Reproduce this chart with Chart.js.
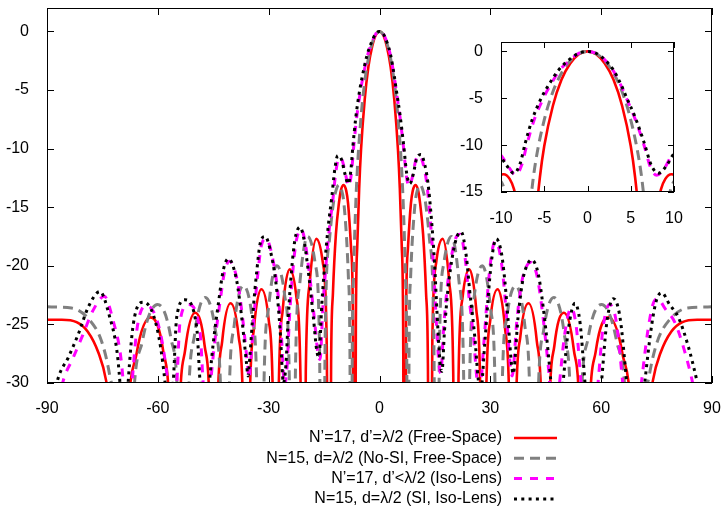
<!DOCTYPE html>
<html>
<head>
<meta charset="utf-8">
<script src="https://cdn.jsdelivr.net/npm/chart.js@4.4.1/dist/chart.umd.min.js"></script>
<style>
body { margin: 0; background: #fff; }
#wrap { position: relative; width: 725px; height: 513px; }
canvas { position: absolute; display: block; }
#main { left: 0; top: 0; }
#inset { left: 450px; top: 30px; }
</style>
</head>
<body>
<div id="wrap">
<canvas id="main" width="725" height="513"></canvas>
<canvas id="inset" width="240" height="200"></canvas>
</div>
<script>
const FONT = '"Liberation Sans", Arial, sans-serif'

const xTicks = [-90, -60, -30, 0, 30, 60, 90]
const yTicks = [-30, -25, -20, -15, -10, -5, 0]
const insetXTicks = [-10, -5, 0, 5, 10]
const insetYTicks = [-15, -10, -5, 0]

const seriesLabels = [
    'N\u2019=17, d\u2019=\u03bb/2 (Free-Space)',
    'N=15, d=\u03bb/2 (No-SI, Free-Space)',
    'N\u2019=17, d\u2019<\u03bb/2 (Iso-Lens)',
    'N=15, d=\u03bb/2 (SI, Iso-Lens)'
]

// [angle in deg, level in dB]; points below -30 just run off the plot
const freeSpace17 = [
    [-90,-24.6],[-86,-24.6],[-82,-24.8],[-79,-25.6],[-76.1,-27.4],[-74.0,-29.8],[-72.4,-34],[-70.25,-60],
    [-68.33,-34.7],[-65.76,-27.5],[-61.93,-24.4],[-58.53,-27.3],[-56.65,-34.5],[-55.44,-60],
    [-54.27,-34.3],[-52.57,-27.1],[-49.88,-24.0],[-47.34,-26.8],[-45.86,-33.9],[-44.9,-60],
    [-43.96,-33.6],[-42.57,-26.4],[-40.32,-23.2],[-38.14,-26.0],[-36.87,-33.0],[-36.03,-60],
    [-35.2,-32.8],[-33.97,-25.3],[-31.97,-22.0],[-30.0,-24.6],[-28.84,-31.6],[-28.07,-60],
    [-27.31,-31.2],[-26.18,-23.7],[-24.31,-20.3],[-22.48,-22.7],[-21.39,-29.5],[-20.67,-60],
    [-19.95,-29.0],[-18.88,-21.4],[-17.1,-17.7],[-15.35,-19.7],[-14.3,-26.4],[-13.61,-60],
    [-13.1,-28.3],[-12.6,-22.3],[-11.8,-17.3],[-11.0,-14.7],[-10.4,-13.5],[-9.7,-13.1],[-9.0,-13.6],[-8.5,-14.7],[-7.7,-18.5],[-7.2,-24.2],[-6.76,-60],
    [-6.4,-25.1],[-6.0,-18.1],[-5.5,-13.4],[-5.0,-10.1],[-4.0,-5.8],[-3.0,-3.0],[-2.0,-1.3],[-1.0,-0.3],[0,0],
    [1.0,-0.3],[2.0,-1.3],[3.0,-3.0],[4.0,-5.8],[5.0,-10.1],[5.5,-13.4],[6.0,-18.1],[6.4,-25.1],[6.76,-60],
    [7.2,-24.2],[7.7,-18.5],[8.5,-14.7],[9.0,-13.6],[9.7,-13.1],[10.4,-13.5],[11.0,-14.7],[11.8,-17.3],[12.6,-22.3],[13.1,-28.3],[13.61,-60],
    [14.3,-26.4],[15.35,-19.7],[17.1,-17.7],[18.88,-21.4],[19.95,-29.0],[20.67,-60],
    [21.39,-29.5],[22.48,-22.7],[24.31,-20.3],[26.18,-23.7],[27.31,-31.2],[28.07,-60],
    [28.84,-31.6],[30.0,-24.6],[31.97,-22.0],[33.97,-25.3],[35.2,-32.8],[36.03,-60],
    [36.87,-33.0],[38.14,-26.0],[40.32,-23.2],[42.57,-26.4],[43.96,-33.6],[44.9,-60],
    [45.86,-33.9],[47.34,-26.8],[49.88,-24.0],[52.57,-27.1],[54.27,-34.3],[55.44,-60],
    [56.65,-34.5],[58.53,-27.3],[61.93,-24.4],[65.76,-27.5],[68.33,-34.7],[70.25,-60],
    [72.4,-34],[74.0,-29.8],[76.1,-27.4],[79,-25.6],[82,-24.8],[86,-24.6],[90,-24.6]
]

const noSiFreeSpace15 = [
    [-90,-23.5],[-83.38,-23.6],[-78.52,-24.6],[-75.16,-26.5],[-73,-29.4],[-71.19,-33.8],[-68.96,-60],
    [-66.93,-33.6],[-64.16,-26.4],[-60.07,-23.3],[-56.44,-26.2],[-54.42,-33.3],[-53.13,-60],
    [-51.87,-33.2],[-50.06,-25.9],[-47.17,-22.7],[-44.43,-25.5],[-42.84,-32.4],[-41.81,-60],
    [-40.79,-32.4],[-39.3,-25.0],[-36.87,-21.7],[-34.52,-24.3],[-33.14,-31.3],[-32.23,-60],
    [-31.33,-31.0],[-30.0,-23.5],[-27.82,-20.0],[-25.68,-22.5],[-24.42,-29.4],[-23.58,-60],
    [-22.75,-28.9],[-21.51,-21.3],[-19.47,-17.5],[-17.46,-19.7],[-16.26,-26.3],[-15.47,-60],
    [-14.68,-25.5],[-13.49,-17.6],[-12.5,-14.7],[-11.8,-13.6],[-11.0,-13.1],[-10.3,-13.5],[-9.59,-14.8],[-8.43,-20.9],[-8.0,-27.5],[-7.66,-60],
    [-7.4,-29.0],[-7.0,-20.6],[-6.46,-15.0],[-6.0,-11.8],[-5.0,-7.3],[-4.0,-4.3],[-3.0,-2.3],[-2.0,-1.0],[-1.0,-0.25],[0,0],
    [1.0,-0.25],[2.0,-1.0],[3.0,-2.3],[4.0,-4.3],[5.0,-7.3],[6.0,-11.8],[6.46,-15.0],[7.0,-20.6],[7.4,-29.0],[7.66,-60],
    [8.0,-27.5],[8.43,-20.9],[9.59,-14.8],[10.3,-13.5],[11.0,-13.1],[11.8,-13.6],[12.5,-14.7],[13.49,-17.6],[14.68,-25.5],[15.47,-60],
    [16.26,-26.3],[17.46,-19.7],[19.47,-17.5],[21.51,-21.3],[22.75,-28.9],[23.58,-60],
    [24.42,-29.4],[25.68,-22.5],[27.82,-20.0],[30.0,-23.5],[31.33,-31.0],[32.23,-60],
    [33.14,-31.3],[34.52,-24.3],[36.87,-21.7],[39.3,-25.0],[40.79,-32.4],[41.81,-60],
    [42.84,-32.4],[44.43,-25.5],[47.17,-22.7],[50.06,-25.9],[51.87,-33.2],[53.13,-60],
    [54.42,-33.3],[56.44,-26.2],[60.07,-23.3],[64.16,-26.4],[66.93,-33.6],[68.96,-60],
    [71.19,-33.8],[73,-29.4],[75.16,-26.5],[78.52,-24.6],[83.38,-23.6],[90,-23.5]
]

const isoLens17 = [
    [-90,-37],[-88,-33.5],[-85.6,-29.8],[-83,-27.9],[-80.3,-25.9],[-77.7,-23.9],[-74.5,-22.6],[-72.0,-24.8],[-70.1,-27.6],[-69.3,-30.2],[-68.1,-36],
    [-67.0,-30.2],[-65.6,-25.3],[-63.0,-23.4],[-59.4,-25.6],[-57.2,-30.2],[-56.1,-34],
    [-54.9,-30.2],[-54.0,-24.8],[-51.8,-23.3],[-48.6,-25.6],[-47.7,-30.2],[-46.6,-35],
    [-45.6,-29.7],[-44.7,-26.8],[-43.3,-23.4],[-42.0,-20.6],[-40.6,-19.6],[-38.4,-21.4],[-37.0,-24.6],[-35.7,-28.5],[-35.3,-29.6],
    [-34.8,-28.0],[-33.9,-24.0],[-32.9,-20.6],[-32.0,-18.3],[-30.7,-17.7],[-28.9,-19.4],[-27.5,-22.3],[-26.6,-25.7],[-25.7,-30.2],
    [-25.0,-28.5],[-24.4,-24.6],[-23.5,-20.6],[-22.6,-18.0],[-21.2,-16.9],[-20.3,-17.7],[-19.0,-20.6],[-17.6,-24.6],[-16.7,-27.4],[-16.1,-28.0],
    [-15.3,-23.4],[-14.5,-20.0],[-13.6,-16.9],[-12.6,-14.3],[-11.9,-12.2],[-11.0,-10.8],[-10.1,-11.0],[-9.2,-12.2],[-8.3,-13.2],
    [-7.6,-12.1],[-7.0,-9.9],[-6.2,-7.4],[-5.1,-5.0],[-4.1,-3.3],[-3.2,-2.0],[-2,-0.9],[-1,-0.2],[0,0],
    [1,-0.2],[2,-0.9],[3,-2.1],[4,-3.9],[4.5,-5.0],[5.5,-7.2],[6.5,-9.9],[7.3,-12.4],[8.0,-13.2],
    [9.0,-12.3],[9.8,-11.0],[10.9,-10.6],[11.9,-11.4],[12.8,-13.0],[13.7,-15.9],[14.6,-19.9],[15.3,-24.3],[16.1,-28.4],[16.6,-29.2],
    [17.3,-25.6],[18.2,-22.2],[19.6,-19.0],[20.7,-17.6],[21.8,-17.3],[23.2,-19.4],[24.1,-22.3],[25.5,-26.3],[26.4,-29.8],[27.0,-31.2],
    [28.2,-26.8],[29.5,-21.4],[30.4,-18.9],[31.3,-17.9],[32.7,-19.1],[33.6,-21.4],[34.5,-24.8],[35.4,-28.5],[35.9,-29.4],
    [37.2,-24.6],[38.5,-21.4],[39.7,-20.1],[40.9,-19.7],[42.6,-20.8],[44.0,-23.7],[45.3,-27.4],[46.0,-29.8],[47.0,-36],
    [48.8,-29.8],[50.1,-25.9],[51.9,-23.6],[53.3,-25.3],[54.6,-30.2],[56.8,-38],
    [59.1,-30.2],[60.5,-25.3],[62.3,-23.3],[64.1,-24.8],[65.9,-30.2],[68.3,-38],
    [70.9,-30.0],[72.7,-25.4],[74.0,-23.3],[75.2,-22.8],[77.4,-23.7],[79.9,-24.8],[82.6,-27.3],[84.9,-30.2],[87,-34],[90,-37]
]

const siIsoLens15 = [
    [-90,-34],[-87.0,-29.6],[-84.2,-27.8],[-81.5,-25.8],[-78.8,-23.5],[-75.7,-22.2],[-73.0,-24.4],[-71.1,-27.2],[-70.3,-29.8],[-69.1,-36],
    [-68.0,-29.8],[-66.6,-24.9],[-63.9,-23.1],[-60.3,-25.2],[-58.1,-29.8],[-57.0,-34],
    [-55.8,-29.8],[-54.9,-24.4],[-52.7,-22.9],[-49.5,-25.2],[-48.6,-29.8],[-47.3,-35],
    [-45.9,-29.5],[-45.0,-26.6],[-43.6,-23.2],[-42.3,-20.4],[-40.9,-19.4],[-38.7,-21.2],[-37.3,-24.4],[-36.0,-28.3],[-35.6,-29.4],
    [-35.1,-27.8],[-34.2,-23.8],[-33.2,-20.4],[-32.3,-18.1],[-31.0,-17.5],[-29.2,-19.2],[-27.8,-22.1],[-26.9,-25.5],[-26.0,-30.0],
    [-25.3,-28.3],[-24.7,-24.4],[-23.8,-20.4],[-22.9,-17.8],[-21.5,-16.7],[-20.6,-17.5],[-19.3,-20.4],[-17.9,-24.4],[-17.0,-27.2],[-16.4,-27.8],
    [-15.6,-23.2],[-14.8,-19.8],[-13.9,-16.7],[-12.9,-14.1],[-12.2,-12.0],[-11.3,-10.6],[-10.3,-10.9],[-9.4,-12.1],[-8.5,-13.0],
    [-7.8,-12.0],[-7.2,-9.8],[-6.4,-7.3],[-5.3,-4.9],[-4.3,-3.3],[-3.35,-2.0],[-2,-0.8],[-1,-0.2],[0,0],
    [1,-0.2],[2,-0.9],[3,-2.0],[4,-3.8],[4.5,-4.9],[5.5,-7.0],[6.5,-9.6],[7.4,-12.2],[8.2,-13.0],
    [9.2,-12.1],[10.0,-10.9],[11.2,-10.5],[12.2,-11.3],[13.1,-12.9],[14.0,-15.8],[14.9,-19.8],[15.6,-24.2],[16.4,-28.3],[16.9,-29.0],
    [17.6,-25.5],[18.5,-22.1],[19.9,-18.9],[21.0,-17.5],[22.1,-17.1],[23.5,-19.2],[24.4,-22.1],[25.8,-26.1],[26.7,-29.6],[27.3,-31],
    [28.5,-26.6],[29.8,-21.2],[30.7,-18.7],[31.6,-17.7],[33.0,-18.9],[33.9,-21.2],[34.8,-24.6],[35.7,-28.3],[36.2,-29.2],
    [37.5,-24.4],[38.8,-21.2],[40.0,-19.9],[41.2,-19.5],[42.9,-20.6],[44.3,-23.5],[45.6,-27.2],[46.3,-29.6],[48.0,-36],
    [49.8,-29.6],[51.1,-25.5],[52.9,-23.2],[54.3,-24.9],[55.6,-29.9],[57.8,-38],
    [60.1,-29.9],[61.5,-24.9],[63.3,-22.8],[65.1,-24.4],[66.9,-29.9],[69.3,-38],
    [71.9,-29.7],[73.7,-25.0],[75.0,-22.9],[76.4,-22.3],[78.5,-23.3],[80.9,-24.4],[83.6,-26.9],[85.9,-29.8],[88,-33],[90,-36]
]


function toPoints(pairs) {
    return pairs.map(p => ({ x: p[0], y: p[1] }))
}

function makeDatasets() {
    const base = { pointRadius: 0, fill: false, cubicInterpolationMode: 'monotone', clip: 0, borderCapStyle: 'butt' }
    return [
        { label: seriesLabels[0], data: toPoints(freeSpace17), borderColor: '#ff0000', borderWidth: 2.6, order: 4 },
        { label: seriesLabels[1], data: toPoints(noSiFreeSpace15), borderColor: '#808080', borderWidth: 3, borderDash: [10, 6], order: 3 },
        { label: seriesLabels[2], data: toPoints(isoLens17), borderColor: '#ff00ff', borderWidth: 3, borderDash: [8, 8], order: 2 },
        { label: seriesLabels[3], data: toPoints(siIsoLens15), borderColor: '#000000', borderWidth: 3, borderDash: [3, 4.3], order: 1 }
    ].map(ds => Object.assign({}, base, ds))
}

// white plot area, frame and inward ticks on all four sides
const framePlugin = {
    id: 'frame',
    beforeDatasetsDraw(chart) {
        const { ctx, chartArea: a } = chart
        ctx.save()
        ctx.fillStyle = '#fff'
        ctx.fillRect(a.left, a.top, a.right - a.left, a.bottom - a.top)
        ctx.restore()
    },
    afterDatasetsDraw(chart, args, opts) {
        const { ctx, chartArea: a, scales } = chart
        const len = opts.tickLength
        ctx.save()
        ctx.strokeStyle = '#000'
        ctx.lineWidth = 1
        ctx.setLineDash([])
        ctx.beginPath()
        scales.x.ticks.forEach(t => {
            const x = Math.round(scales.x.getPixelForValue(t.value)) + 0.5
            ctx.moveTo(x, a.bottom); ctx.lineTo(x, a.bottom - len)
            ctx.moveTo(x, a.top); ctx.lineTo(x, a.top + len)
        })
        scales.y.ticks.forEach(t => {
            const y = Math.round(scales.y.getPixelForValue(t.value)) + 0.5
            ctx.moveTo(a.left, y); ctx.lineTo(a.left + len, y)
            ctx.moveTo(a.right, y); ctx.lineTo(a.right - len, y)
        })
        ctx.stroke()
        ctx.strokeRect(Math.round(a.left) + 0.5, Math.round(a.top) + 0.5,
            Math.round(a.right - a.left) - 1, Math.round(a.bottom - a.top) - 1)
        ctx.restore()
    }
}

// gnuplot style key: text right aligned, line sample on the right
const keyPlugin = {
    id: 'key',
    afterDraw(chart, args, opts) {
        const ctx = chart.ctx
        ctx.save()
        ctx.font = '16px ' + FONT
        ctx.textAlign = 'right'
        ctx.textBaseline = 'middle'
        chart.data.datasets.forEach((ds, i) => {
            const y = opts.top + i * opts.rowHeight
            ctx.fillStyle = '#000'
            ctx.fillText(ds.label, opts.textRight, y)
            ctx.strokeStyle = ds.borderColor
            ctx.lineWidth = ds.borderWidth
            ctx.setLineDash(ds.borderDash || [])
            ctx.beginPath()
            ctx.moveTo(opts.lineStart, y)
            ctx.lineTo(opts.lineEnd, y)
            ctx.stroke()
        })
        ctx.restore()
    }
}

function axis(min, max, tickValues, size, padding, horizontal) {
    return {
        type: 'linear',
        min: min,
        max: max,
        grid: { display: false },
        border: { display: false },
        afterBuildTicks: scale => { scale.ticks = tickValues.map(v => ({ value: v })) },
        afterFit: scale => {
            if (horizontal) { scale.height = size } else { scale.width = size }
            scale.paddingLeft = 0
            scale.paddingRight = 0
            scale.paddingTop = 0
            scale.paddingBottom = 0
        },
        ticks: {
            color: '#000',
            padding: padding,
            autoSkip: false,
            maxRotation: 0,
            font: { family: FONT, size: 16 },
            callback: v => String(v)
        }
    }
}

window.onload = () => {
    new Chart(document.getElementById('main'), {
        type: 'line',
        data: { datasets: makeDatasets() },
        options: {
            responsive: false,
            animation: false,
            events: [],
            layout: { padding: { left: 0, right: 13, top: 8, bottom: 0 } },
            scales: {
                x: axis(-90, 90, xTicks, 130, 8, true),
                y: axis(-30, 2, yTicks, 47, 10, false)
            },
            plugins: {
                legend: { display: false },
                tooltip: { enabled: false },
                frame: { tickLength: 7 },
                key: { top: 438, rowHeight: 20.3, textRight: 502, lineStart: 514, lineEnd: 557 }
            }
        },
        plugins: [framePlugin, keyPlugin]
    })

    new Chart(document.getElementById('inset'), {
        type: 'line',
        data: { datasets: makeDatasets() },
        options: {
            responsive: false,
            animation: false,
            events: [],
            layout: { padding: { left: 0, right: 16, top: 12, bottom: 0 } },
            scales: {
                x: axis(-10, 10, insetXTicks, 38, 9, true),
                y: axis(-15, 1, insetYTicks, 51, 10, false)
            },
            plugins: {
                legend: { display: false },
                tooltip: { enabled: false },
                frame: { tickLength: 6 }
            }
        },
        plugins: [framePlugin]
    })
}
</script>
</body>
</html>
